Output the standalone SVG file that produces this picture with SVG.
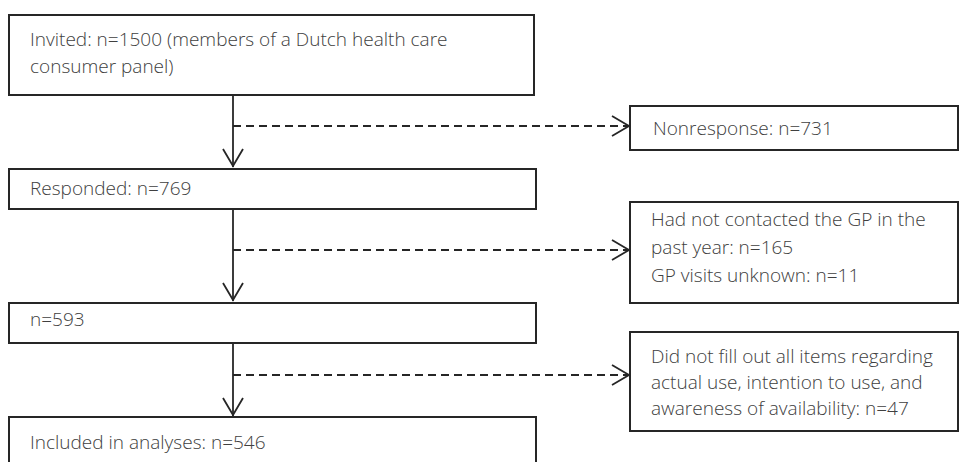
<svg xmlns="http://www.w3.org/2000/svg" width="976" height="462" viewBox="0 0 976 462">
<style>
.box{fill:#fff;stroke:#262626;stroke-width:2}
.t{font-family:"Open Sans","Liberation Sans",sans-serif;font-weight:300;font-size:19px;fill:#404040}
.ln{stroke:#262626;stroke-width:1.8;fill:none}
.dash{stroke:#262626;stroke-width:1.8;fill:none;stroke-dasharray:8 5}
</style>
<rect width="976" height="462" fill="#fff"/>
<g id="connectors">
<line class="ln" x1="233" y1="96" x2="233" y2="167"/>
<polyline class="ln" points="223,149 233,166 243,149"/>
<line class="dash" x1="233" y1="126" x2="628" y2="126"/>
<polyline class="ln" points="612,116 629,126 612,136"/>
<line class="ln" x1="233" y1="210" x2="233" y2="301"/>
<polyline class="ln" points="223,283 233,300 243,283"/>
<line class="dash" x1="233" y1="250" x2="628" y2="250"/>
<polyline class="ln" points="612,240 629,250 612,260"/>
<line class="ln" x1="233" y1="344" x2="233" y2="416"/>
<polyline class="ln" points="223,398 233,415 243,398"/>
<line class="dash" x1="233" y1="375" x2="628" y2="375"/>
<polyline class="ln" points="612,365 629,375 612,385"/>
</g>
<g id="invited">
<rect class="box" x="9" y="15" width="525" height="80"/>
<text class="t" x="30" y="46">Invited: n=1500 (members of a Dutch health care</text>
<text class="t" x="30" y="73">consumer panel)</text>
</g>
<g id="nonresponse">
<rect class="box" x="630" y="106" width="328" height="44"/>
<text class="t" x="653" y="135">Nonresponse: n=731</text>
</g>
<g id="responded">
<rect class="box" x="9" y="169" width="527" height="40"/>
<text class="t" x="30" y="195">Responded: n=769</text>
</g>
<g id="nocontact">
<rect class="box" x="630" y="202" width="328" height="101"/>
<text class="t" x="651" y="226">Had not contacted the GP in the</text>
<text class="t" x="651" y="254">past year: n=165</text>
<text class="t" x="651" y="282">GP visits unknown: n=11</text>
</g>
<g id="n593">
<rect class="box" x="9" y="303" width="527" height="40"/>
<text class="t" x="30" y="326">n=593</text>
</g>
<g id="incomplete">
<rect class="box" x="630" y="332" width="328" height="99"/>
<text class="t" x="651" y="363">Did not fill out all items regarding</text>
<text class="t" x="651" y="389">actual use, intention to use, and</text>
<text class="t" x="651" y="415">awareness of availability: n=47</text>
</g>
<g id="included">
<rect class="box" x="9" y="417" width="527" height="60"/>
<text class="t" x="30" y="449">Included in analyses: n=546</text>
</g>
</svg>
